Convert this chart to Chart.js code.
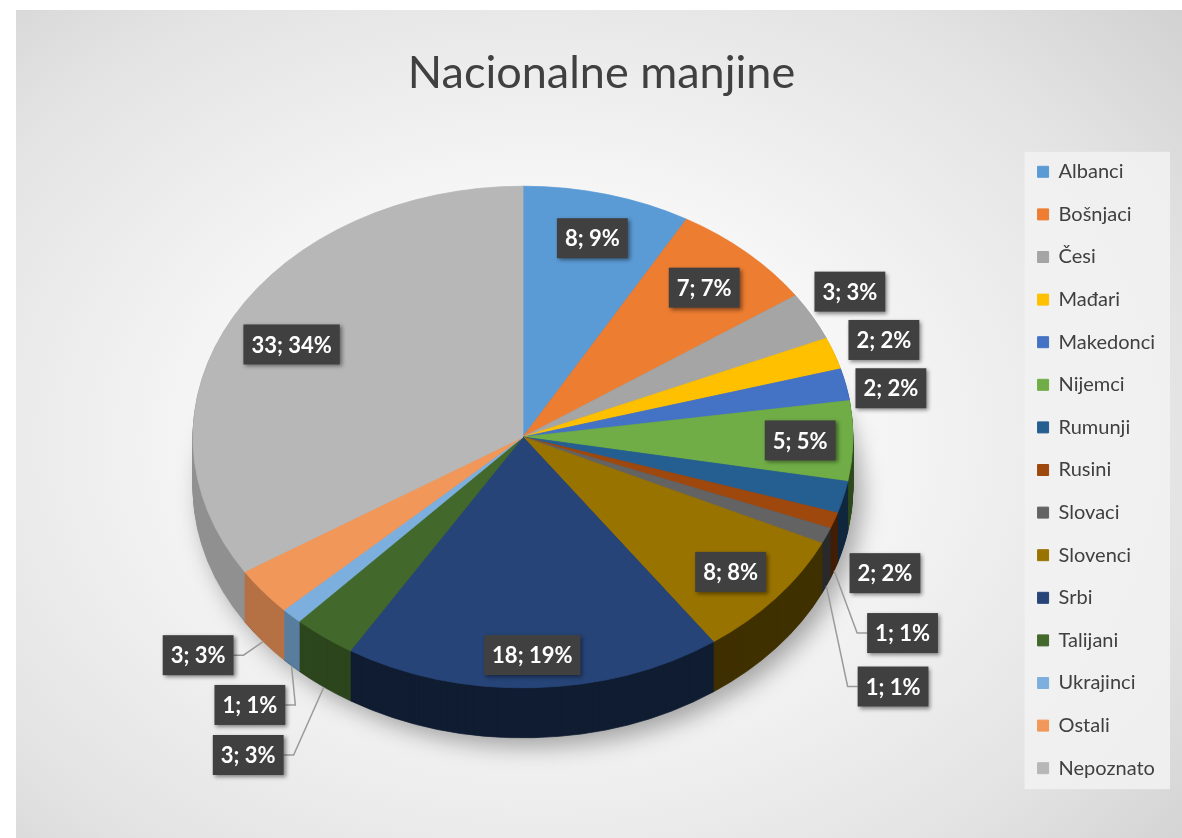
<!DOCTYPE html>
<html>
<head>
<meta charset="utf-8">
<script src="https://cdn.jsdelivr.net/npm/chart.js@4.4.1/dist/chart.umd.min.js"></script>
<style>
    html, body { margin: 0; padding: 0; background: #fff; }
    #wrap {
        position: absolute; left: 16px; top: 10px; width: 1166px; height: 828px;
        background: radial-gradient(ellipse 75% 80% at 45% 52%, #ffffff 0%, #f7f7f7 35%, #e3e3e3 75%, #d0d0d0 100%);
    }
</style>
</head>
<body>
<div id="wrap"><canvas id="chart"></canvas></div>
<script>
const categories = ["Albanci", "Bošnjaci", "Česi", "Mađari", "Makedonci", "Nijemci", "Rumunji", "Rusini",
    "Slovaci", "Slovenci", "Srbi", "Talijani", "Ukrajinci", "Ostali", "Nepoznato"];
const values = [8, 7, 3, 2, 2, 5, 2, 1, 1, 8, 18, 3, 1, 3, 33];
const percents = [9, 7, 3, 2, 2, 5, 2, 1, 1, 8, 19, 3, 1, 3, 34];

const colors = ["#5B9BD5", "#ED7D31", "#A5A5A5", "#FFC000", "#4472C4", "#70AD47", "#255E91", "#9E480E",
    "#636363", "#997300", "#264478", "#43682B", "#7CAFDD", "#F1975A", "#B7B7B7"];

// pogled na 3D pitu (ekranske koordinate unutar canvasa)
const view = { cx: 507, cy: 427, rx: 330, tilt: 0.76, depth: 50 };

// položaj oznaka: faktor radijusa i dodatni pomak po y
const labelPlace = [[0.82, 0], [0.81, 0], [1.13, -9], [1.16, 0], [1.14, 11], [0.84, 0], [1.13, 68], [1.22, 94],
    [1.22, 129], [0.82, 3], [0.87, 0], [1.38, 42], [1.18, 57], [1.25, 25], [0.8, 4]];

function darken(hex, f) {
    const n = parseInt(hex.slice(1), 16);
    const r = Math.round(((n >> 16) & 255) * f);
    const g = Math.round(((n >> 8) & 255) * f);
    const b = Math.round((n & 255) * f);
    return `rgb(${r},${g},${b})`;
}

function applyView(ctx, arc, dy) {
    const s = view.rx / arc.outerRadius;
    ctx.translate(view.cx, view.cy + dy);
    ctx.scale(s, s * view.tilt);
    ctx.translate(-arc.x, -arc.y);
}

const pie3d = {
    id: "pie3d",
    beforeDraw(chart) {
        // pozadina legende
        const boxes = chart.legend && chart.legend.legendHitBoxes;
        if (!boxes || !boxes.length) return;
        const left = Math.min(...boxes.map(b => b.left));
        const top = Math.min(...boxes.map(b => b.top));
        const right = Math.max(...boxes.map(b => b.left + b.width));
        const bottom = Math.max(...boxes.map(b => b.top + b.height));
        const ctx = chart.ctx;
        ctx.save();
        ctx.fillStyle = "rgba(242,242,242,0.85)";
        ctx.fillRect(left - 13, top - 10, right - left + 28, bottom - top + 21);
        ctx.restore();
    },
    beforeDatasetsDraw(chart) {
        const ctx = chart.ctx;
        const arcs = chart.getDatasetMeta(0).data;

        // bočne stranice
        for (let d = view.depth; d >= 1; d--) {
            arcs.forEach((arc, i) => {
                const mid = (arc.startAngle + arc.endAngle) / 2;
                const f = 0.42 + 0.42 * Math.max(0, -Math.cos(mid));
                const dark = darken(colors[i], f);
                const saved = arc.options;
                arc.options = Object.assign({}, saved, { backgroundColor: dark, borderColor: dark, borderWidth: 1 });
                ctx.save();
                if (d === view.depth) {
                    ctx.shadowColor = "rgba(0,0,0,0.35)";
                    ctx.shadowBlur = 24;
                    ctx.shadowOffsetX = 8;
                    ctx.shadowOffsetY = 8;
                }
                applyView(ctx, arc, d);
                arc.draw(ctx);
                ctx.restore();
                arc.options = saved;
            });
        }

        // gornja ploha
        arcs.forEach((arc) => {
            ctx.save();
            applyView(ctx, arc, 0);
            arc.draw(ctx);
            ctx.restore();
        });

        // oznake podataka
        const ry = view.rx * view.tilt;
        ctx.save();
        ctx.font = "bold 22px Lato";
        ctx.textAlign = "center";
        ctx.textBaseline = "middle";
        arcs.forEach((arc, i) => {
            const mid = (arc.startAngle + arc.endAngle) / 2;
            const [f, dy] = labelPlace[i];
            const lx = view.cx + Math.cos(mid) * view.rx * f;
            const ly = view.cy + Math.sin(mid) * ry * f + dy;
            const text = `${values[i]}; ${percents[i]}%`;
            const w = ctx.measureText(text).width + 16;
            const h = 40;

            if (f >= 1.18) {
                const sx = view.cx + Math.cos(mid) * view.rx;
                const sy = view.cy + Math.sin(mid) * ry + view.depth;
                const ex = lx > sx ? lx - w / 2 : lx + w / 2;
                let pts;
                if (Math.abs(lx - sx) < w / 2) {
                    pts = [[sx, sy], [sx, ly - h / 2]];
                } else {
                    const elbow = lx > sx ? ex - 10 : ex + 10;
                    pts = [[sx, sy], [elbow, ly], [ex, ly]];
                }
                ctx.strokeStyle = "#9a9a9a";
                ctx.lineWidth = 1.5;
                ctx.beginPath();
                pts.forEach(([px, py], k) => (k ? ctx.lineTo(px, py) : ctx.moveTo(px, py)));
                ctx.stroke();
            }

            ctx.save();
            ctx.shadowColor = "rgba(0,0,0,0.45)";
            ctx.shadowBlur = 4;
            ctx.shadowOffsetX = 2;
            ctx.shadowOffsetY = 2;
            ctx.fillStyle = "#404040";
            ctx.fillRect(lx - w / 2, ly - h / 2, w, h);
            ctx.restore();
            ctx.fillStyle = "#ffffff";
            ctx.fillText(text, lx, ly + 1);
        });
        ctx.restore();
        return false;
    },
};

document.addEventListener("DOMContentLoaded", () => {
    const ctx = document.getElementById("chart").getContext("2d");
    new Chart(ctx, {
        type: "pie",
        data: {
            labels: categories,
            datasets: [
                {
                    data: values,
                    backgroundColor: colors,
                    borderColor: colors,
                    borderWidth: 1,
                    clip: false,
                },
            ],
        },
        options: {
            responsive: true,
            maintainAspectRatio: false,
            animation: false,
            layout: { padding: { left: 22, right: 17 } },
            plugins: {
                title: {
                    display: true,
                    text: "Nacionalne manjine",
                    color: "#404040",
                    font: { family: "Lato", size: 45, weight: "normal" },
                    padding: { top: 36, bottom: 2 },
                },
                legend: {
                    position: "right",
                    fullSize: false,
                    labels: {
                        boxWidth: 11,
                        boxHeight: 11,
                        padding: 22.6,
                        color: "#404040",
                        font: { family: "Lato", size: 20 },
                    },
                },
                tooltip: { enabled: false },
            },
        },
        plugins: [pie3d],
    });
});
</script>
</body>
</html>
